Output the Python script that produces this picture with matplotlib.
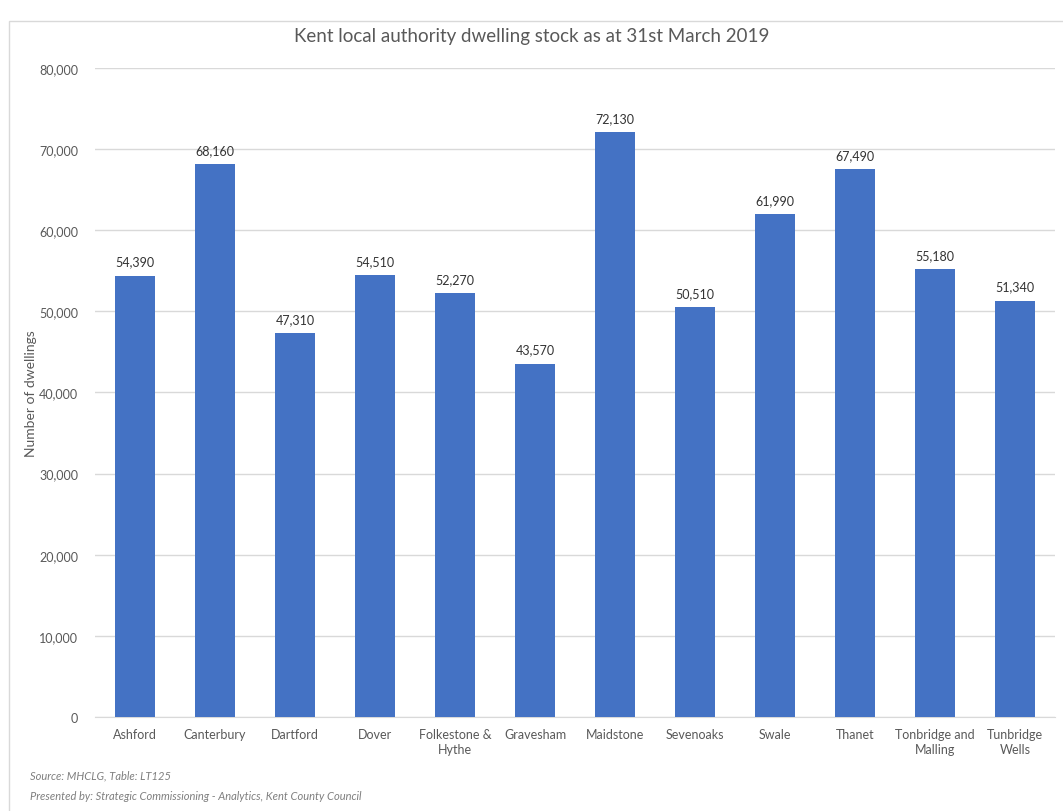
import matplotlib.pyplot as plt
from matplotlib.patches import Rectangle

plt.rcParams['font.family'] = ['Lato', 'DejaVu Sans']

districts = ["Ashford", "Canterbury", "Dartford", "Dover", "Folkestone &\nHythe",
             "Gravesham", "Maidstone", "Sevenoaks", "Swale", "Thanet",
             "Tonbridge and\nMalling", "Tunbridge\nWells"]
dwellings = [54390, 68160, 47310, 54510, 52270, 43570, 72130, 50510, 61990,
             67490, 55180, 51340]
yticks = [0, 10000, 20000, 30000, 40000, 50000, 60000, 70000, 80000]

bar_color = "#4472C4"
text_gray = "#595959"

fig = plt.figure(figsize=(10.63, 8.12), dpi=100)
ax = fig.add_axes([0.0894, 0.1158, 0.9031, 0.7992])

x = range(len(districts))
ax.bar(x, dwellings, width=0.5, color=bar_color, zorder=3)

# data labels
for i, v in enumerate(dwellings):
    ax.text(i, v + 1000, f"{v:,}", ha="center", va="bottom",
            fontsize=9, color="#333333")

ax.set_xlim(-0.5, len(districts) - 0.5)
ax.set_ylim(0, 80000)
ax.set_yticks(yticks)
ax.set_yticklabels([f"{t:,}" for t in yticks], fontsize=9, color=text_gray)
ax.set_xticks(list(x))
ax.set_xticklabels(districts, fontsize=9, color=text_gray, linespacing=1.3)
ax.tick_params(length=0, pad=12)
ax.tick_params(axis="x", pad=8)
ax.grid(axis="y", color="#d9d9d9", linewidth=1, zorder=0)
for s in ["top", "right", "left"]:
    ax.spines[s].set_visible(False)
ax.spines["bottom"].set_color("#d9d9d9")

ax.set_ylabel("Number of dwellings", fontsize=10, color=text_gray)
ax.yaxis.set_label_coords(-0.060, 0.5)

fig.text(0.5, 0.955, "Kent local authority dwelling stock as at 31st March 2019",
         ha="center", va="center", fontsize=13.5, color=text_gray)

fig.text(0.028, 0.040, "Source: MHCLG, Table: LT125", fontsize=8,
         style="italic", color="#7f7f7f")
fig.text(0.028, 0.015, "Presented by: Strategic Commissioning - Analytics, Kent County Council",
         fontsize=8, style="italic", color="#7f7f7f")

# chart frame
fig.patches.append(Rectangle((0.008, -0.01), 1.0, 0.983, transform=fig.transFigure,
                             fill=False, edgecolor="#d9d9d9", linewidth=1))

fig.savefig("out.png", dpi=100)
